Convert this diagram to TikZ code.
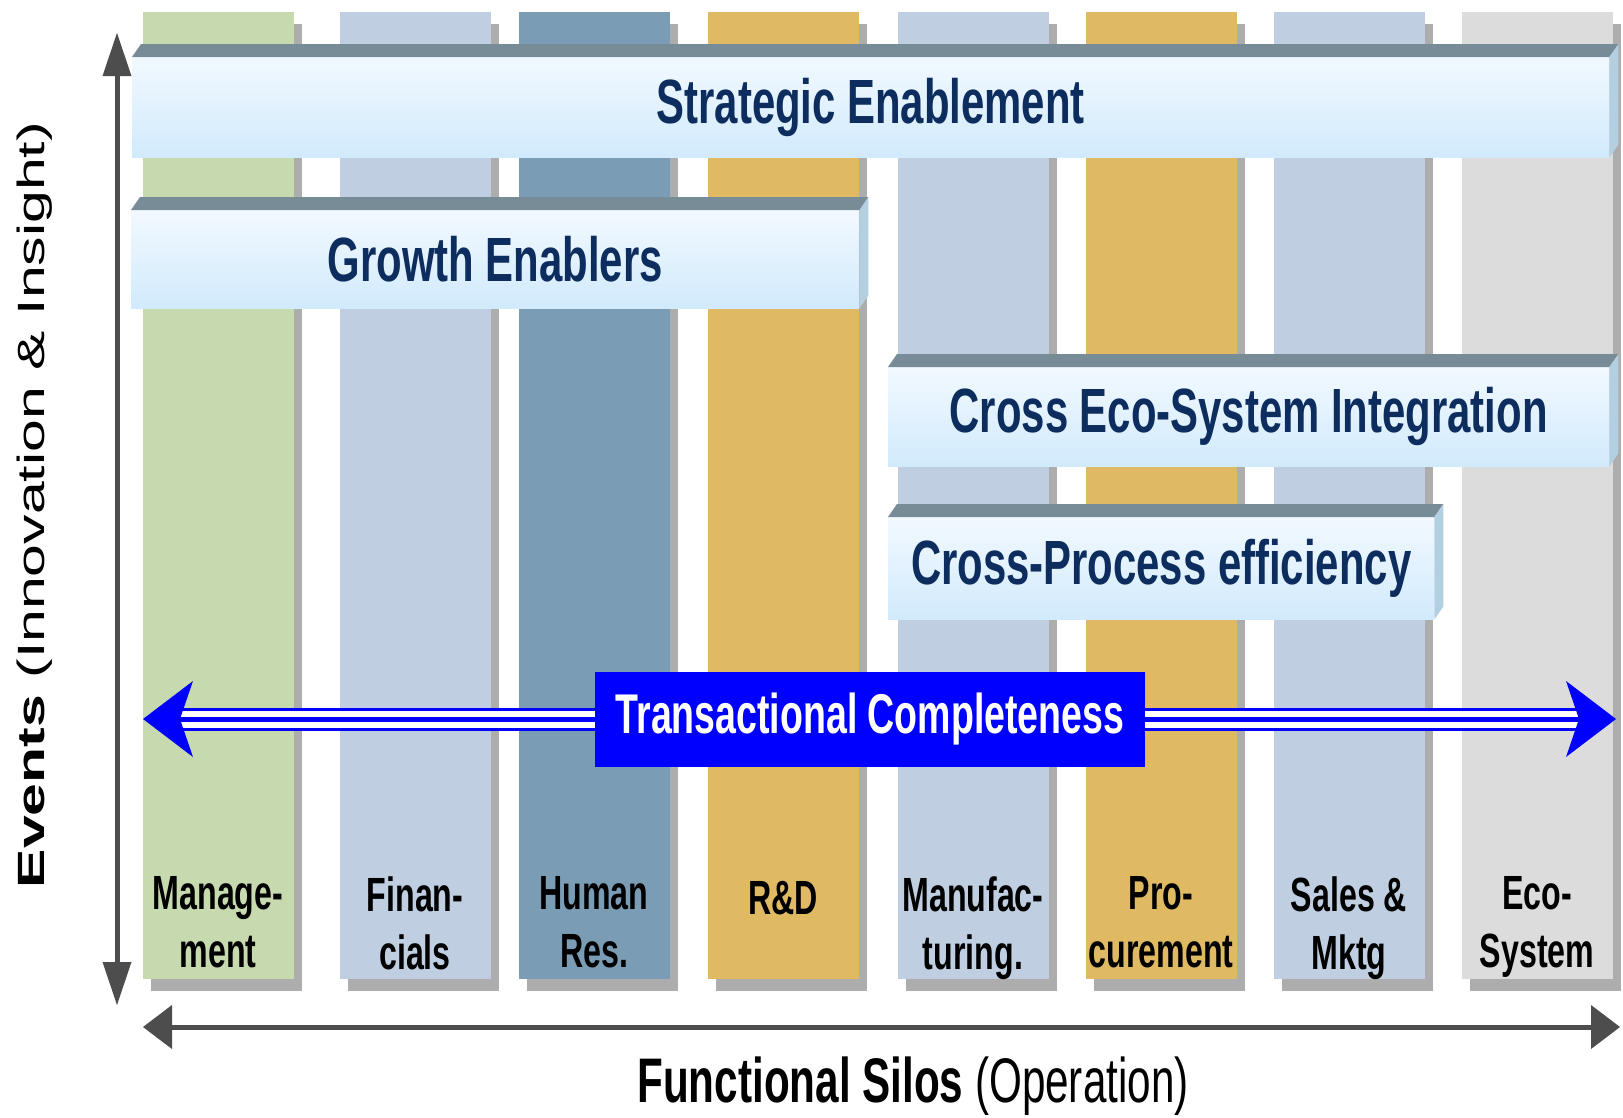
\documentclass[tikz,border=0pt]{standalone}
\usepackage{fontspec}
\setmainfont{Liberation Sans}
\newfontfamily\narrowsf{Liberation Sans}[FakeStretch=0.67]
\newfontfamily\widesf{Liberation Sans}[FakeStretch=1.55]
\usepackage{xcolor}
\usepackage{tikz}
\usetikzlibrary{arrows.meta, positioning, shadows}

\definecolor{mgmtgreen}{HTML}{C7D9AE}
\definecolor{silolight}{HTML}{BFCFE1}
\definecolor{silosteel}{HTML}{7A9DB5}
\definecolor{silogold}{HTML}{DFBA63}
\definecolor{siloeco}{HTML}{DCDCDC}
\definecolor{silogray}{HTML}{ADADAD}
\definecolor{slabgray}{HTML}{788C97}
\definecolor{slabblue}{HTML}{B3CFE2}
\definecolor{slabhi}{HTML}{F2F9FF}
\definecolor{slablo}{HTML}{D1EAFC}
\definecolor{headnavy}{HTML}{0C2D5E}
\definecolor{axisgray}{HTML}{4D4D4D}

\begin{document}
\begin{tikzpicture}[x=1pt, y=-1pt,
    silo/.style={rectangle, inner sep=0pt, minimum width=151pt, minimum height=967pt,
        drop shadow={shadow xshift=8pt, shadow yshift=-12pt, opacity=1, fill=silogray}},
    silolabel/.style={anchor=north, inner sep=0pt, align=center,
        font=\fontsize{48}{58}\selectfont\narrowsf\bfseries},
    slab/.style={rectangle, anchor=north west, inner sep=0pt, minimum height=100pt,
        top color=slabhi, bottom color=slablo, text=headnavy,
        font=\fontsize{62.5}{70}\selectfont\narrowsf\bfseries},
    slabtop/.style={fill=slabgray},
    slabside/.style={fill=slabblue},
    axis/.style={draw=axisgray, line width=5pt}]

    \useasboundingbox (0,0) rectangle (1623,1117);
    \fill[white] (0,0) rectangle (1623,1117);

    % Silos
    \node (mgmt) [silo, fill=mgmtgreen] at (218,495) {};
    \node (fin) [silo, fill=silolight] at (415,495) {};
    \node (hr) [silo, fill=silosteel] at (594,495) {};
    \node (rnd) [silo, fill=silogold] at (783,495) {};
    \node (manuf) [silo, fill=silolight] at (973,495) {};
    \node (proc) [silo, fill=silogold] at (1161,495) {};
    \node (sales) [silo, fill=silolight] at (1349,495) {};
    \node (eco) [silo, fill=siloeco] at (1537,495) {};

    \node (mgmtlab) [silolabel] at ([yshift=102pt]mgmt.south) {Manage-\\ment};
    \node (finlab) [silolabel] at ([yshift=102pt]fin.south) {Finan-\\cials};
    \node (hrlab) [silolabel] at ([yshift=102pt]hr.south) {Human\\Res.};
    \node (rndlab) [silolabel] at ([yshift=98pt]rnd.south) {R\&D};
    \node (manuflab) [silolabel] at ([yshift=102pt]manuf.south) {Manufac-\\turing.};
    \node (proclab) [silolabel] at ([yshift=102pt]proc.south) {Pro-\\curement};
    \node (saleslab) [silolabel] at ([yshift=102pt]sales.south) {Sales \&\\Mktg};
    \node (ecolab) [silolabel] at ([yshift=102pt]eco.south) {Eco-\\System};

    % Layers
    \node (strat) [slab, minimum width=1477pt] at (132,57) {Strategic Enablement};
    \fill[slabtop] (strat.north west) -- ++(9,-13) -- ([xshift=9pt,yshift=13pt]strat.north east) -- (strat.north east) -- cycle;
    \fill[slabside] (strat.north east) -- ([xshift=9pt,yshift=13pt]strat.north east) -- ([xshift=9pt,yshift=13pt]strat.south east) -- (strat.south east) -- cycle;

    \node (growth) [slab, minimum width=728pt, minimum height=98pt] at (131,210) {Growth Enablers};
    \fill[slabtop] (growth.north west) -- ++(9,-13) -- ([xshift=9pt,yshift=13pt]growth.north east) -- (growth.north east) -- cycle;
    \fill[slabside] (growth.north east) -- ([xshift=9pt,yshift=13pt]growth.north east) -- ([xshift=9pt,yshift=13pt]growth.south east) -- (growth.south east) -- cycle;

    \node (ecosys) [slab, minimum width=721pt, minimum height=99pt] at (888,367) {Cross Eco-System Integration};
    \fill[slabtop] (ecosys.north west) -- ++(9,-13) -- ([xshift=9pt,yshift=13pt]ecosys.north east) -- (ecosys.north east) -- cycle;
    \fill[slabside] (ecosys.north east) -- ([xshift=9pt,yshift=13pt]ecosys.north east) -- ([xshift=9pt,yshift=13pt]ecosys.south east) -- (ecosys.south east) -- cycle;

    \node (xproc) [slab, minimum width=546pt, minimum height=102pt] at (888,517) {Cross-Process efficiency};
    \fill[slabtop] (xproc.north west) -- ++(9,-13) -- ([xshift=9pt,yshift=13pt]xproc.north east) -- (xproc.north east) -- cycle;
    \fill[slabside] (xproc.north east) -- ([xshift=9pt,yshift=13pt]xproc.north east) -- ([xshift=9pt,yshift=13pt]xproc.south east) -- (xproc.south east) -- cycle;

    % Transactional arrow
    \coordinate (tl) at (143,719);
    \coordinate (tr) at (1616,719);
    \draw[white, line width=23pt] ([xshift=37pt]tl) -- ([xshift=-37pt]tr);
    \draw[blue, line width=3pt] ([xshift=37pt,yshift=10pt]tl) -- ([xshift=-37pt,yshift=10pt]tr);
    \draw[blue, line width=3pt] ([xshift=37pt,yshift=-10pt]tl) -- ([xshift=-37pt,yshift=-10pt]tr);
    \draw[blue, line width=5pt, {Stealth[length=50pt,width=76pt,inset=13pt,line width=0pt]}-{Stealth[length=50pt,width=76pt,inset=13pt,line width=0pt]}] (tl) -- (tr);
    \node (trans) [fill=blue, text=white, inner sep=0pt, minimum width=550pt, minimum height=95pt,
        font=\fontsize{56}{60}\selectfont\narrowsf\bfseries] at (870,719) {\raisebox{-4pt}{Transactional Completeness}};

    % Axes
    \coordinate (ytop) at (117,33);
    \coordinate (ybot) at (117,1005);
    \draw[axis, {Triangle[length=43pt,width=29pt,line width=0pt]}-{Triangle[length=43pt,width=29pt,line width=0pt]}] (ytop) -- (ybot);
    \coordinate (xleft) at (143,1027);
    \coordinate (xright) at (1620,1027);
    \draw[axis, {Triangle[length=29pt,width=44pt,line width=0pt]}-{Triangle[length=29pt,width=44pt,line width=0pt]}] (xleft) -- (xright);

    \node (ylabel) [rotate=90, font=\fontsize{38}{40}\selectfont\widesf] at (35,505) {\textbf{Events} (Innovation \& Insight)};
    \node (xlabel) [font=\fontsize{63}{70}\selectfont\narrowsf] at (913,1086) {\textbf{Functional Silos} (Operation)};

\end{tikzpicture}
\end{document}
